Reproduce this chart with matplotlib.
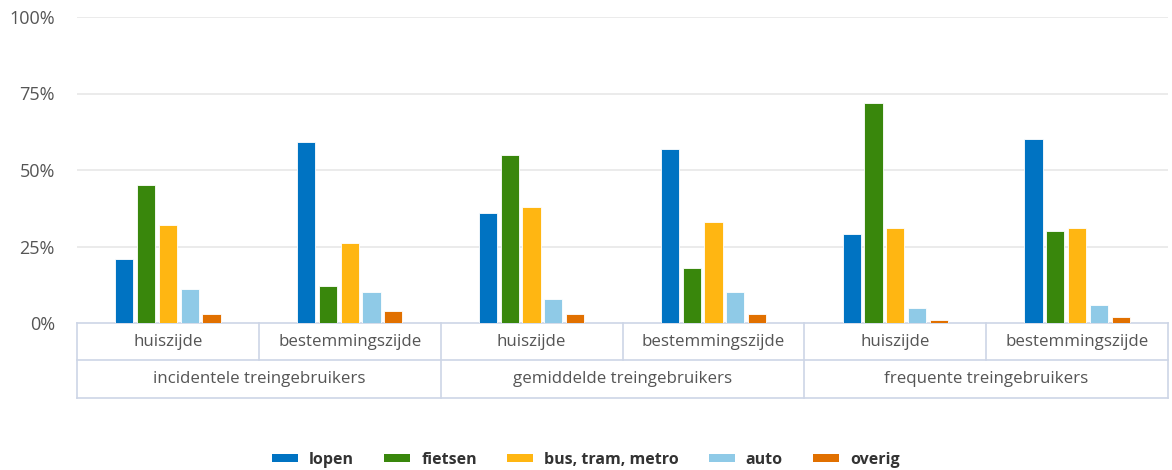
import matplotlib.pyplot as plt
from matplotlib.transforms import blended_transform_factory
from matplotlib.patches import Patch

plt.rcParams['font.family'] = ['Open Sans', 'DejaVu Sans']

groups = ['incidentele treingebruikers', 'gemiddelde treingebruikers', 'frequente treingebruikers']
sides = ['huiszijde', 'bestemmingszijde']
modes = ['lopen', 'fietsen', 'bus, tram, metro', 'auto', 'overig']
colors = ['#0073C2', '#39870C', '#FFB612', '#8FCAE7', '#E17000']

# percentages per mode, six columns: (group, side)
lopen = [21, 59, 36, 57, 29, 60]
fietsen = [45, 12, 55, 18, 72, 30]
bus = [32, 26, 38, 33, 31, 31]
auto = [11, 10, 8, 10, 5, 6]
overig = [3, 4, 3, 3, 1, 2]
series = [lopen, fietsen, bus, auto, overig]

fig = plt.figure(figsize=(11.72, 4.70), dpi=100)
ax = fig.add_axes([77 / 1172, 1 - 323 / 470, 1091 / 1172, 306 / 470])

n = len(lopen)
width = 0.1
step = 0.12
for k, (vals, c) in enumerate(zip(series, colors)):
    xs = [i + 0.5 + (k - 2) * step for i in range(n)]
    ax.bar(xs, vals, width=width, color=c, edgecolor='white', linewidth=0.6, zorder=3)

ax.set_xlim(0, n)
ax.set_ylim(0, 100)
ax.set_yticks([0, 25, 50, 75, 100])
ax.set_yticklabels(['0%', '25%', '50%', '75%', '100%'], color='#555555', fontsize=13)
ax.tick_params(axis='y', length=0, pad=16)
ax.set_xticks([])
for y in [25, 50, 75, 100]:
    ax.axhline(y, color='#e8e8e8', linewidth=1.2, zorder=0)
for s in ax.spines.values():
    s.set_visible(False)

# category table below the axis
line_c = '#cdd5e6'
tr = blended_transform_factory(ax.transData, ax.transAxes)
row1 = -37 / 306
row2 = -75 / 306
kw = dict(transform=tr, clip_on=False, color=line_c, linewidth=1.2)
for y in [0, row1, row2]:
    ax.plot([0, n], [y, y], **kw)
for x in range(n + 1):
    bottom = row2 if x % 2 == 0 else row1
    ax.plot([x, x], [0, bottom], **kw)
for i in range(n):
    ax.text(i + 0.5, row1 / 2, sides[i % 2], transform=tr, ha='center', va='center',
            fontsize=12.2, color='#555555')
for g, name in enumerate(groups):
    ax.text(2 * g + 1, (row1 + row2) / 2, name, transform=tr, ha='center', va='center',
            fontsize=12.2, color='#555555')

handles = [Patch(facecolor=c, edgecolor='none') for c in colors]
fig.legend(handles, modes, loc='center', bbox_to_anchor=(0.5, 1 - 460 / 470), ncol=5,
           frameon=False, handlelength=1.6, handleheight=0.4, handletextpad=0.7,
           columnspacing=1.9, prop={'weight': 'bold', 'size': 11.5}, labelcolor='#333333')

fig.savefig('out.png', dpi=100)
